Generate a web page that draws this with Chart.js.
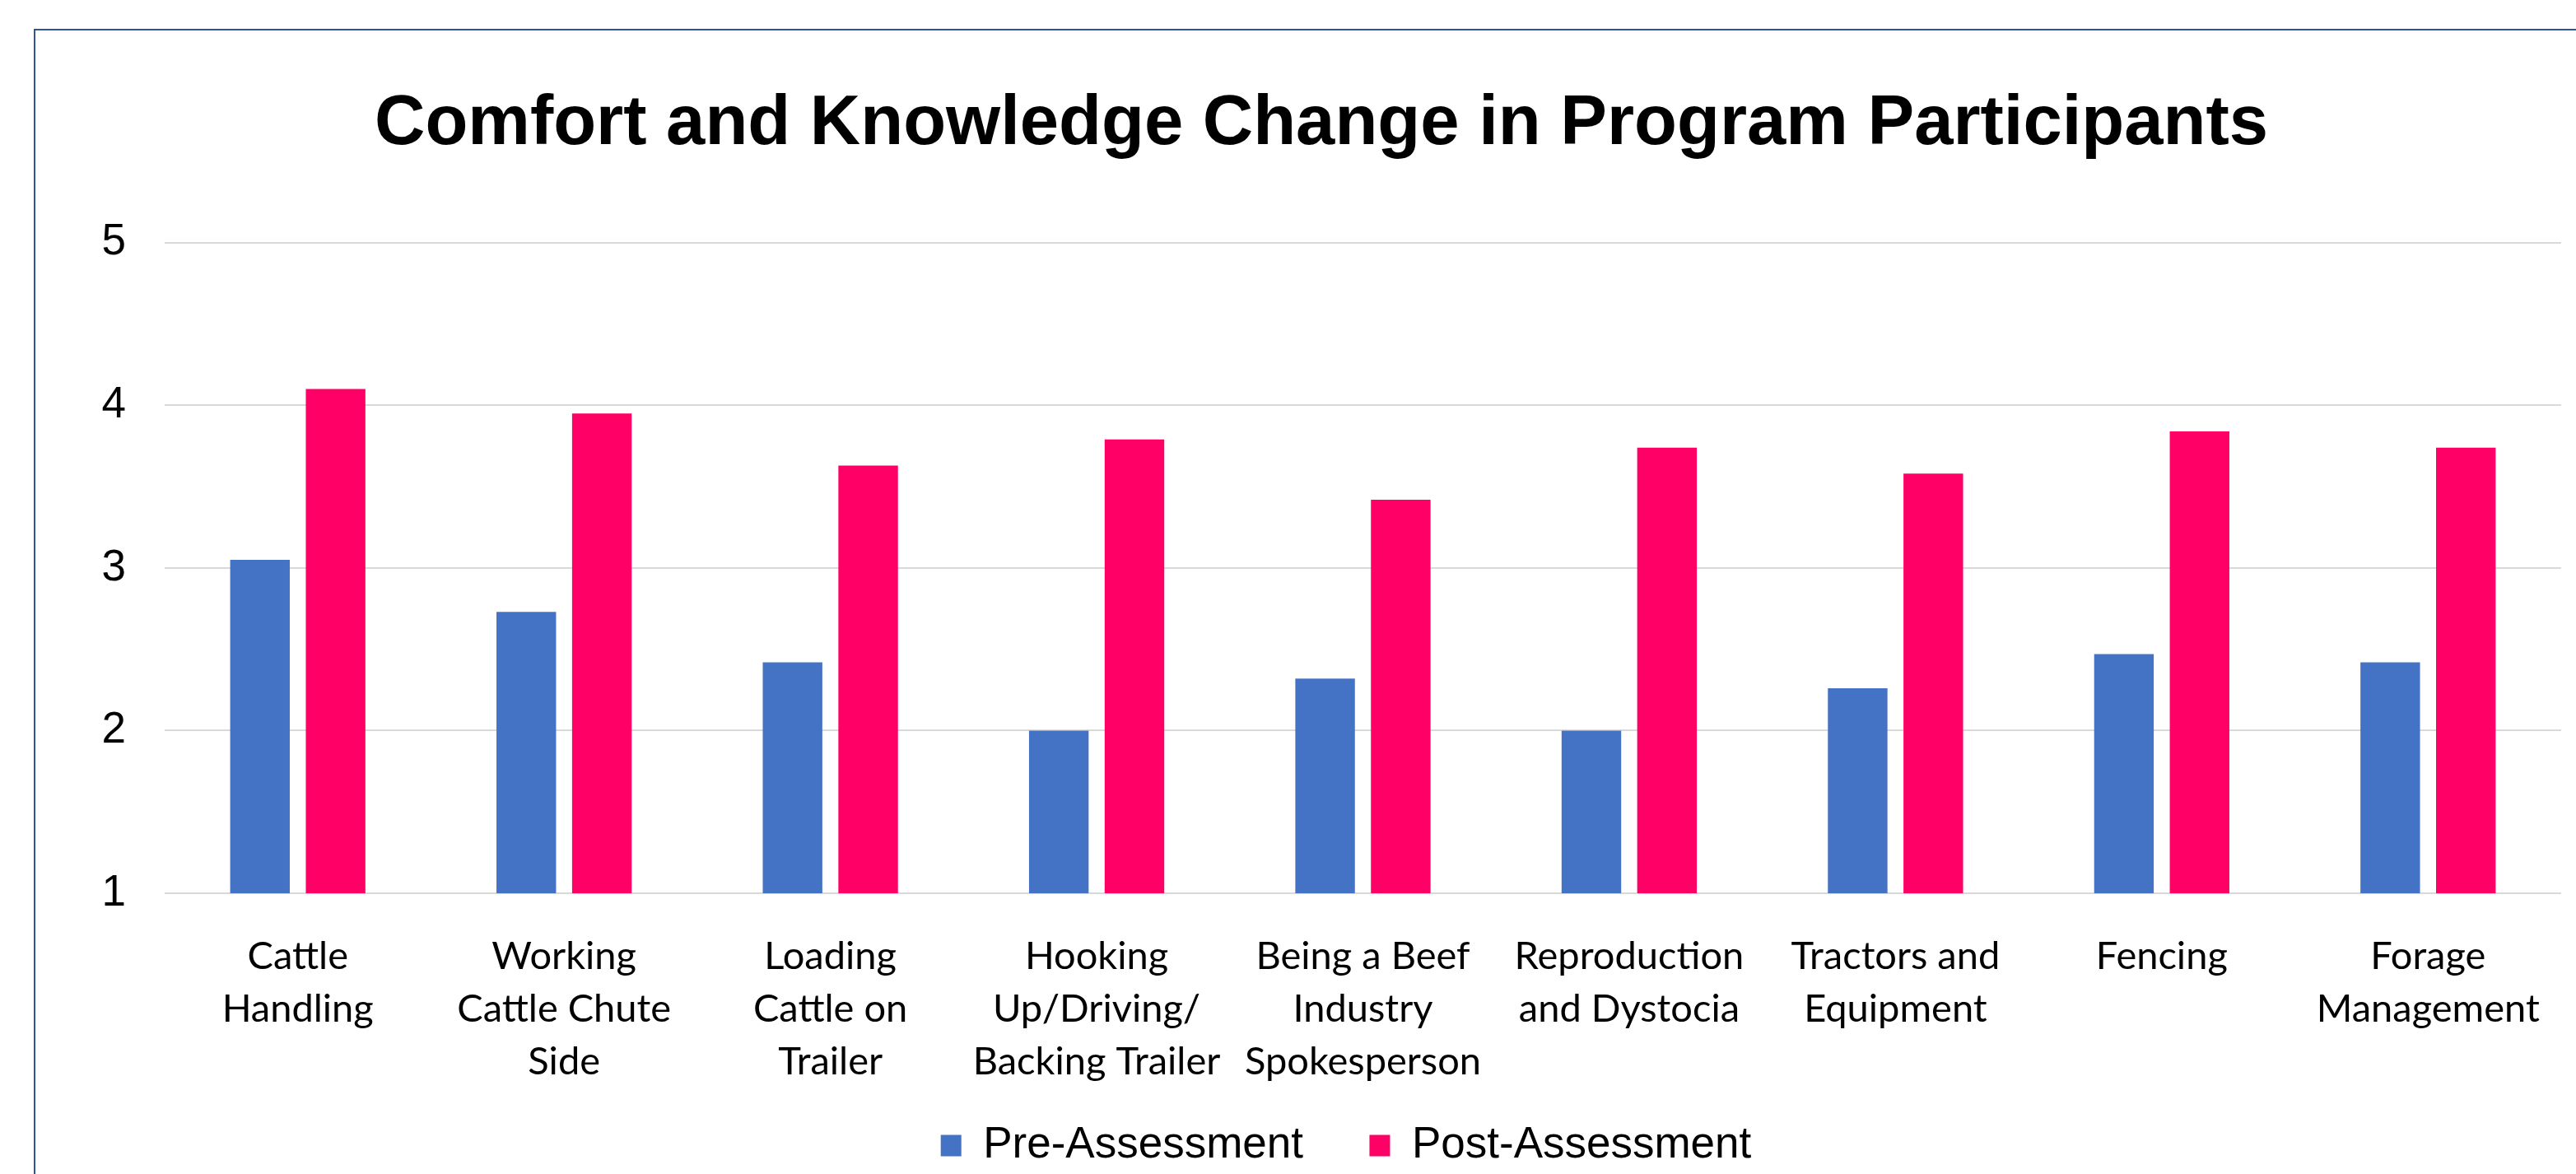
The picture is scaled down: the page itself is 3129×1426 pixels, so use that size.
<!DOCTYPE html>
<html lang="en">
<head>
  <meta charset="UTF-8" />
  <title>Comfort and Knowledge Change in Program Participants</title>
  <script src="https://cdn.jsdelivr.net/npm/chart.js"></script>
  <style>
    html, body { margin: 0; padding: 0; background: #fff; overflow: hidden; width: 3129px; height: 1426px; }
    #frame { position: absolute; left: 41px; top: 35px; width: 3200px; height: 1500px;
             border-left: 2px solid #2F5597; border-top: 2px solid #2F5597; }
    #chart { position: absolute; left: 43px; top: 37px; }
  </style>
</head>
<body>
  <div id="frame"></div>
  <canvas id="chart" width="3068" height="1391"></canvas>

  <script>
    const categories = [
      ["Cattle", "Handling"],
      ["Working", "Cattle Chute", "Side"],
      ["Loading", "Cattle on", "Trailer"],
      ["Hooking", "Up/Driving/", "Backing Trailer"],
      ["Being a Beef", "Industry", "Spokesperson"],
      ["Reproduction", "and Dystocia"],
      ["Tractors and", "Equipment"],
      ["Fencing"],
      ["Forage", "Management"]
    ];
    const preAssessment  = [3.05, 2.73, 2.42, 2.00, 2.32, 2.00, 2.26, 2.47, 2.42];
    const postAssessment = [4.10, 3.95, 3.63, 3.79, 3.42, 3.74, 3.58, 3.84, 3.74];
    const yTicks = [1, 2, 3, 4, 5];

    const arial = "'Liberation Sans', Arial, sans-serif";

    // legend sits a little right of the title centre in the original
    const shiftLegend = {
      id: 'shiftLegend',
      afterLayout(chart) {
        if (chart.legend) { chart.legend.left += 30; chart.legend.right += 30; }
      }
    };

    new Chart(document.getElementById("chart"), {
      type: 'bar',
      data: {
        labels: categories,
        datasets: [
          { label: "Pre-Assessment", data: preAssessment, backgroundColor: '#4472C4',
            categoryPercentage: 0.568, barPercentage: 0.788 },
          { label: "Post-Assessment", data: postAssessment, backgroundColor: '#FF0066',
            categoryPercentage: 0.568, barPercentage: 0.788 }
        ]
      },
      options: {
        responsive: false,
        animation: false,
        layout: { padding: { left: 56, right: 0, top: 0, bottom: 0 } },
        plugins: {
          title: {
            display: true,
            text: "Comfort and Knowledge Change in Program Participants",
            color: '#000',
            font: { family: arial, size: 85, weight: 'bold' },
            padding: { top: 64, bottom: 91.8 }
          },
          legend: {
            position: 'bottom',
            labels: {
              color: '#000',
              font: { family: arial, size: 53 },
              boxWidth: 25,
              boxHeight: 26,
              padding: 51,
              generateLabels: chart => {
                const items = Chart.defaults.plugins.legend.labels.generateLabels(chart);
                items[0].text += '\u00a0\u00a0';
                return items;
              }
            }
          },
          tooltip: { enabled: false }
        },
        scales: {
          y: {
            min: yTicks[0],
            max: yTicks[yTicks.length - 1],
            afterFit: s => { s.width = 101; },
            afterBuildTicks: s => { s.ticks = yTicks.map(v => ({ value: v })); },
            ticks: { color: '#000', font: { family: arial, size: 53 }, padding: 47 },
            grid: { color: '#d9d9d9', lineWidth: 2, drawTicks: false },
            border: { display: false }
          },
          x: {
            afterFit: s => { s.height = 229; s.paddingLeft = 0; s.paddingRight = 0; },
            ticks: { color: '#000', font: { family: "Lato, sans-serif", size: 47, lineHeight: '64px' },
                     padding: 37, maxRotation: 0, autoSkip: false },
            grid: { display: false },
            border: { display: false }
          }
        }
      },
      plugins: [shiftLegend]
    });
  </script>
</body>
</html>
